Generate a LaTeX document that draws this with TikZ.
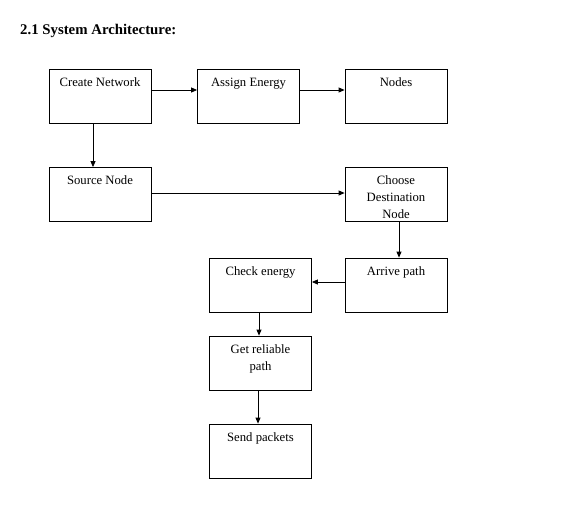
\documentclass[tikz,border=0pt]{standalone}
\usepackage{fontspec}
\setmainfont{Liberation Serif}
\usetikzlibrary{arrows.meta, positioning}
\tikzset{
  stepbox/.style={
    draw=black,
    line width=0.8pt,
    minimum width=102pt,
    minimum height=54pt,
    inner sep=0pt,
  },
  boxtext/.style={
    anchor=north,
    yshift=-5.4pt,
    align=center,
    inner sep=0pt,
    font=\fontsize{12.7}{17}\selectfont,
    execute at begin node={\strut},
  },
  arr/.style={-{Triangle[length=6pt, width=5pt]}, line width=0.8pt, draw=black},
}

\begin{document}
\begin{tikzpicture}[x=1pt, y=-1pt]
\useasboundingbox (0,0) rectangle (575,517);

% --- Title ---
\node[anchor=base west, inner sep=0pt, font=\bfseries\fontsize{14.8}{17}\selectfont] (title) at (20,34.5) {2.1 System Architecture:};

% --- Top row ---
\node[stepbox, label={[boxtext]north:Create Network}] (create) at (100,96) {};
\node[stepbox, label={[boxtext]north:Assign Energy}] (assign) at (248.5,96) {};
\node[stepbox, label={[boxtext]north:Nodes}] (nodes) at (396,96) {};

% --- Second row ---
\node[stepbox, label={[boxtext]north:Source Node}] (source) at (100,194.5) {};
\node[stepbox, label={[boxtext, yshift=-3pt]north:Choose\\Destination\\Node}] (choose) at (396,194.5) {};

% --- Third row ---
\node[stepbox, label={[boxtext]north:Check energy}] (check) at (260.5,285) {};
\node[stepbox, label={[boxtext]north:Arrive path}] (arrive) at (396,285) {};

% --- Lower column ---
\node[stepbox, label={[boxtext, yshift=-3pt]north:Get reliable\\path}] (reliable) at (260.5,363) {};
\node[stepbox, label={[boxtext]north:Send packets}] (send) at (260.5,451) {};

% --- Arrows ---
\draw[arr] ([yshift=6pt]create.east) -- ([yshift=6pt]assign.west);
\draw[arr] ([yshift=6pt]assign.east) -- ([yshift=6pt]nodes.west);
\draw[arr] ([xshift=-7pt]create.south) -- ([xshift=-7pt]source.north);
\draw[arr] ([yshift=1.5pt]source.east) -- ([yshift=1.5pt]choose.west);
\draw[arr] ([xshift=3pt]choose.south) -- ([xshift=3pt]arrive.north);
\draw[arr] ([yshift=3pt]arrive.west) -- ([yshift=3pt]check.east);
\draw[arr] ([xshift=-1.5pt]check.south) -- ([xshift=-1.5pt]reliable.north);
\draw[arr] ([xshift=-2.5pt]reliable.south) -- ([xshift=-2.5pt]send.north);

\end{tikzpicture}
\end{document}
